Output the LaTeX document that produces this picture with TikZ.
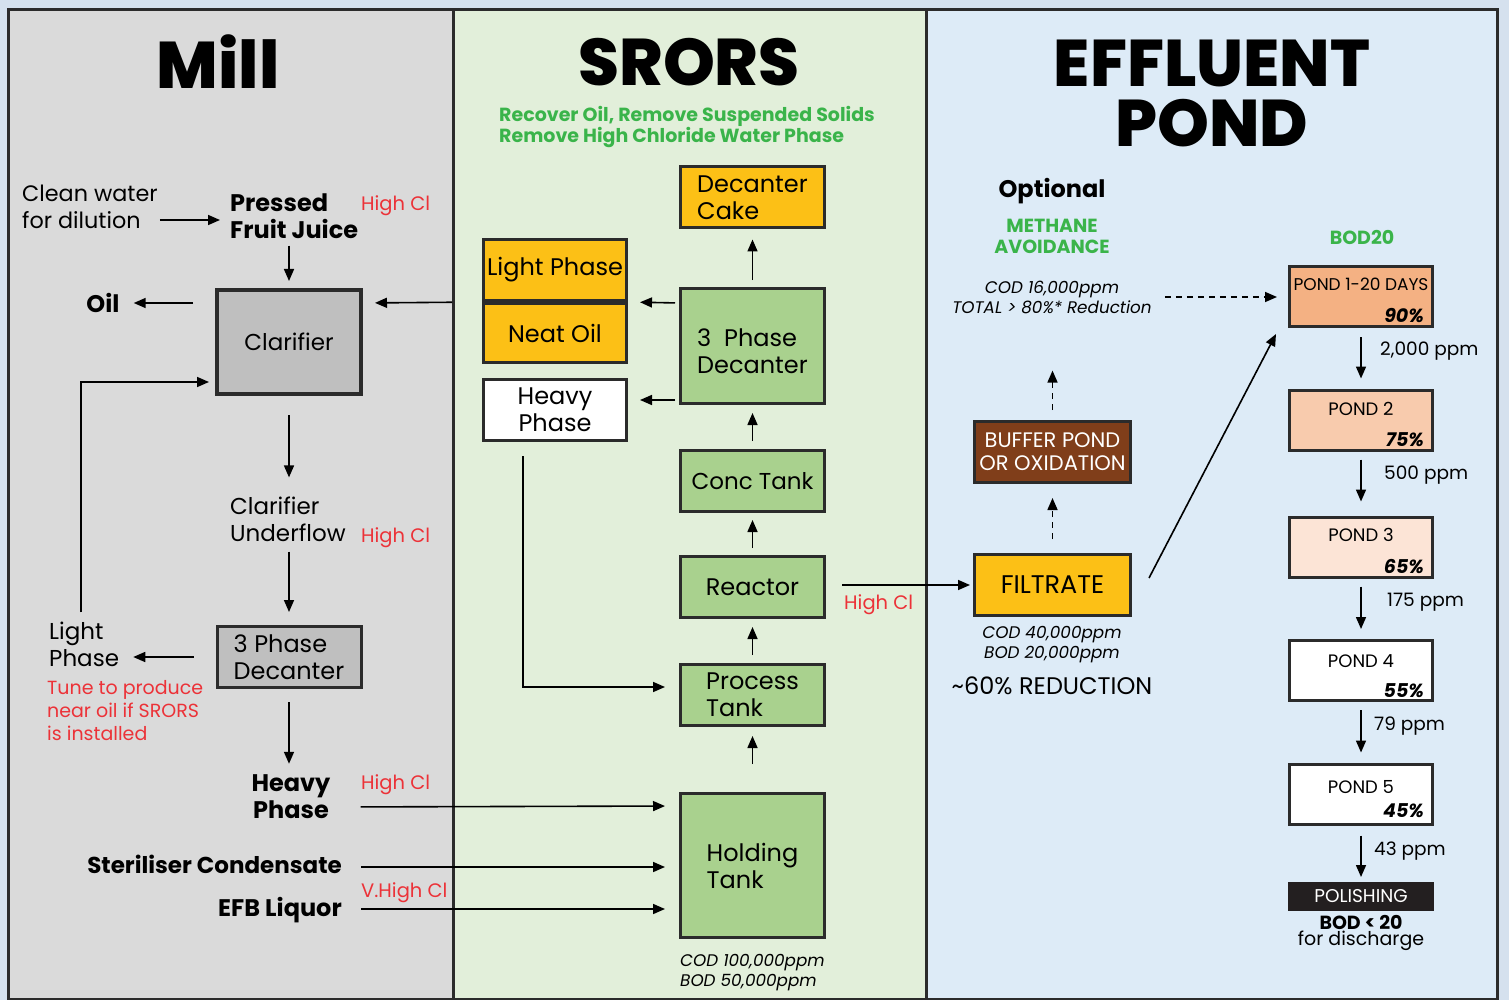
\documentclass[tikz,border=0pt]{standalone}
\usepackage{fontspec}
\setmainfont{Poppins}
\newfontfamily\heavyfont{Poppins ExtraBold}
\usetikzlibrary{arrows.meta,positioning}

\definecolor{outside}{RGB}{213,225,238}
\definecolor{millbg}{RGB}{218,218,218}
\definecolor{srorsbg}{RGB}{226,239,218}
\definecolor{pondbg}{RGB}{221,235,247}
\definecolor{edge}{RGB}{43,43,43}
\definecolor{greybox}{RGB}{191,191,191}
\definecolor{greenbox}{RGB}{169,209,142}
\definecolor{amber}{RGB}{252,192,22}
\definecolor{brownbox}{RGB}{128,62,26}
\definecolor{pondone}{RGB}{244,177,131}
\definecolor{pondtwo}{RGB}{248,203,173}
\definecolor{pondthree}{RGB}{252,228,214}
\definecolor{polishbg}{RGB}{35,31,32}
\definecolor{redcl}{RGB}{236,50,56}
\definecolor{greentxt}{RGB}{58,180,74}

\begin{document}
\begin{tikzpicture}[x=1pt,y=-1pt,>={Triangle[length=12pt,width=10pt]},
  flow/.style={->,line width=1.6pt},
  dash flow/.style={->,line width=1.6pt,dash pattern=on 6pt off 5pt},
  panel/.style={draw=edge,line width=3pt},
  txt/.style={inner sep=0pt,align=left,font=\fontsize{23}{27}\selectfont},
  bold txt/.style={txt,font=\fontsize{24}{27}\selectfont\bfseries},
  red txt/.style={inner sep=0pt,align=left,text=redcl,font=\fontsize{19.5}{23}\selectfont},
  green txt/.style={inner sep=0pt,align=left,text=greentxt,font=\fontsize{19}{21}\selectfont\bfseries},
  note txt/.style={inner sep=0pt,align=center,font=\fontsize{16.8}{20}\selectfont\itshape},
  ppm txt/.style={inner sep=0pt,anchor=west,font=\fontsize{18.5}{22}\selectfont},
  title txt/.style={inner sep=0pt,align=center,font=\fontsize{66}{60}\heavyfont},
  main node/.style={draw=edge,line width=3pt,inner sep=0pt,minimum width=144pt,minimum height=61pt,align=left,font=\fontsize{24}{27}\selectfont},
  grey node/.style={main node,fill=greybox},
  green node/.style={main node,fill=greenbox},
  amber node/.style={main node,fill=amber},
  pond node/.style={main node,minimum width=143pt,minimum height=60pt},
  pond txt/.style={inner sep=0pt,font=\fontsize{18}{20}\selectfont},
  pct txt/.style={inner sep=0pt,anchor=east,font=\fontsize{19}{20}\selectfont\bfseries\itshape}]

  \useasboundingbox (0,0) rectangle (1509,1000);
  \fill[outside] (0,0) rectangle (1509,1000);
  \draw[panel,fill=millbg] (8,10) rectangle (453,999);
  \draw[panel,fill=srorsbg] (453,10) rectangle (926,999);
  \draw[panel,fill=pondbg] (926,10) rectangle (1497,999);

  % mill
  \node[title txt] (mill) at (218,62) {Mill};
  \node[txt,anchor=west,font=\fontsize{22.3}{27}\selectfont] (water) at (22,207) {Clean water\\for dilution};
  \node[bold txt,anchor=west] (juice) at (230,216) {Pressed\\Fruit Juice};
  \node[red txt,anchor=west] (cl1) at (361,206) {High Cl};
  \node[grey node,line width=4pt,minimum height=104pt,font=\fontsize{23}{27}\selectfont] (clar) at (289,342) {Clarifier};
  \node[bold txt] (oil) at (103,303) {Oil};
  \node[txt,anchor=west] (under) at (230,519) {Clarifier\\Underflow};
  \node[red txt,anchor=west] (cl2) at (361,538) {High Cl};
  \node[grey node] (mdec) at (289,657) {3 Phase\\Decanter};
  \node[txt,anchor=west] (mlight) at (49,644) {Light\\Phase};
  \node[red txt,anchor=west,font=\fontsize{19}{23}\selectfont] (tune) at (47,711) {Tune to produce\\near oil if SRORS\\is installed};
  \node[bold txt,align=center] (mheavy) at (291,797) {Heavy\\Phase};
  \node[red txt,anchor=west] (cl3) at (361,785) {High Cl};
  \node[bold txt,anchor=east,font=\fontsize{23}{27}\selectfont\bfseries] (cond) at (342,864) {Steriliser Condensate};
  \node[red txt,anchor=west] (cl4) at (361,893) {V.High Cl};
  \node[bold txt,anchor=east] (efb) at (342,910) {EFB Liquor};

  % srors
  \node[title txt] (srors) at (689,62) {SRORS};
  \node[green txt,anchor=west] (aim) at (499,127) {Recover Oil, Remove Suspended Solids\\Remove High Chloride Water Phase};
  \node[amber node] (cake) at (752.5,197.5) {Decanter\\Cake};
  \node[amber node,minimum width=143pt] (slight) at (555,270) {Light Phase};
  \node[amber node,minimum width=143pt,minimum height=59pt] (neat) at (555,333) {Neat Oil};
  \node[green node,minimum height=115pt] (sdec) at (752.5,346) {3\ \ Phase\\Decanter\\[-37pt]};
  \node[main node,fill=white,align=center,minimum width=143pt] (sheavy) at (555,410) {Heavy\\Phase};
  \node[green node,font=\fontsize{23}{27}\selectfont] (conc) at (752.5,481) {Conc Tank};
  \node[green node] (reac) at (752.5,587) {Reactor};
  \node[green node] (proc) at (752.5,695) {Process\\Tank};
  \node[green node,minimum height=144pt] (hold) at (752.5,865.5) {Holding\\Tank};
  \node[note txt,align=left,anchor=west] (holdcod) at (680,973) {COD 100,000ppm\\BOD 50,000ppm};
  \node[red txt,anchor=west] (cl5) at (844,605) {High Cl};

  % effluent pond
  \node[title txt] (eff) at (1212,63) {EFFLUENT};
  \node[title txt] (effpond) at (1212,123) {POND};
  \node[bold txt] (opt) at (1052,191) {Optional};
  \node[green txt,align=center] (meth) at (1052,236) {METHANE\\AVOIDANCE};
  \node[green txt] (bod) at (1362,237) {BOD20};
  \node[note txt] (cod16) at (1052,297) {COD 16,000ppm\\TOTAL > 80\%* Reduction};
  \node[main node,fill=brownbox,text=white,align=center,minimum width=156pt,font=\fontsize{21}{23}\selectfont] (buffer) at (1052.5,452) {BUFFER POND\\OR OXIDATION};
  \node[amber node,align=center,minimum width=156pt,font=\fontsize{25.5}{27}\selectfont] (filt) at (1052.5,585) {FILTRATE};
  \node[note txt] (filtcod) at (1052,645) {COD 40,000ppm\\BOD 20,000ppm};
  \node[txt,font=\fontsize{24}{27}\selectfont] (cut) at (1052,686) {\textasciitilde60\% REDUCTION};

  \node[pond node,fill=pondone] (pond1) at (1361,296.5) {};
  \node[pond node,fill=pondtwo] (pond2) at (1361,420) {};
  \node[pond node,fill=pondthree] (pond3) at (1361,547) {};
  \node[pond node,fill=white] (pond4) at (1361,670.5) {};
  \node[pond node,fill=white] (pond5) at (1361,794) {};
  \node[pond node,fill=polishbg,draw=polishbg,minimum height=26pt,text=white,align=center,font=\fontsize{18.5}{20}\selectfont] (polish) at (1361,896.5) {POLISHING};

  \node[pond txt,font=\fontsize{17}{20}\selectfont] (name1) at (1361,284) {POND 1-20 DAYS};
  \node[pct txt] (cut1) at (1424,316) {90\%};
  \node[pond txt] (name2) at (1361,409) {POND 2};
  \node[pct txt] (cut2) at (1424,440) {75\%};
  \node[pond txt] (name3) at (1361,535) {POND 3};
  \node[pct txt] (cut3) at (1424,567) {65\%};
  \node[pond txt] (name4) at (1361,661) {POND 4};
  \node[pct txt] (cut4) at (1424,691) {55\%};
  \node[pond txt] (name5) at (1361,787) {POND 5};
  \node[pct txt] (cut5) at (1424,811) {45\%};

  \node[ppm txt] (ppm1) at (1380,351) {2,000 ppm};
  \node[ppm txt] (ppm2) at (1384,475) {500 ppm};
  \node[ppm txt] (ppm3) at (1387,602) {175 ppm};
  \node[ppm txt] (ppm4) at (1374,726) {79 ppm};
  \node[ppm txt] (ppm5) at (1374,851) {43 ppm};
  \node[inner sep=0pt,align=center,font=\fontsize{19}{16}\selectfont] (disch) at (1361,933) {{\bfseries BOD < 20}\\for discharge};

  % mill flows
  \draw[flow,shorten <=2pt,shorten >=10pt] ([yshift=-13pt]water.east) -- ([yshift=-4pt]juice.west);
  \draw[flow,shorten <=7pt,shorten >=7pt] (clar.north |- juice.south) -- (clar.north);
  \draw[flow,shorten <=22pt,shorten >=14pt] ([yshift=39pt]clar.west) -- (oil.east);
  \draw[flow,shorten <=30pt,shorten >=12pt] (slight.south west) -- ([yshift=39pt]clar.east);
  \draw[flow,shorten >=6pt] ([xshift=32pt,yshift=9pt]mlight.north west) |- ([yshift=-40pt]clar.west);
  \draw[flow,shorten <=19pt,shorten >=19pt] (clar.south) -- (clar.south |- under.north);
  \draw[flow,shorten <=10pt,shorten >=13pt] (mdec.north |- under.south) -- (mdec.north);
  \draw[flow,shorten <=22pt,shorten >=14pt] (mdec.west) -- (mlight.east |- mdec.west);
  \draw[flow,shorten <=13pt,shorten >=11pt] (mdec.south) -- (mdec.south |- mheavy.north);
  \draw[flow,shorten <=30pt,shorten >=14pt] ([yshift=-10pt]mheavy.east) -- ([yshift=59.5pt]hold.west);
  \draw[flow,shorten <=19pt,shorten >=14pt] ([yshift=-3pt]cond.east) -- ([yshift=-1.5pt]hold.west);
  \draw[flow,shorten <=19pt,shorten >=14pt] ([yshift=1pt]efb.east) -- ([yshift=-43.5pt]hold.west);

  % srors flows
  \draw[flow,shorten <=7pt,shorten >=10pt] (sdec.north) -- (cake.south);
  \draw[flow,shorten <=4pt,shorten >=12pt] ([yshift=43pt]sdec.west) -- (slight.south east);
  \draw[flow,shorten <=4pt,shorten >=12pt] ([yshift=-54pt]sdec.west) -- ([yshift=10pt]sheavy.east);
  \draw[flow,shorten <=8pt,shorten >=8pt] (conc.north) -- (sdec.south);
  \draw[flow,shorten <=7pt,shorten >=7pt] (reac.north) -- (conc.south);
  \draw[flow,shorten <=8pt,shorten >=8pt] (proc.north) -- (reac.south);
  \draw[flow,shorten <=28pt,shorten >=9pt] (hold.north) -- (proc.south);
  \draw[flow,shorten >=14pt] ([xshift=41pt,yshift=-14pt]sheavy.south west) |- ([yshift=8pt]proc.west);
  \draw[flow,shorten <=16pt,shorten >=3pt] ([yshift=2pt]reac.east) -- (filt.west);

  % effluent flows
  \draw[dash flow,shorten <=13pt,shorten >=11pt] (cod16.east) -- (cod16.east -| pond1.west);
  \draw[dash flow,shorten <=14pt,shorten >=14pt] (filt.north) -- (buffer.south);
  \draw[dash flow,shorten <=10pt,shorten >=57pt] (buffer.north) -- (buffer.north |- cod16.south);
  \draw[flow] ([shift={(17,-7)}]filt.east) -- ([shift={(-12,6)}]pond1.south west);
  \draw[flow,shorten <=9pt,shorten >=10pt] (pond1.south) -- (pond2.north);
  \draw[flow,shorten <=8pt,shorten >=14pt] (pond2.south) -- (pond3.north);
  \draw[flow,shorten <=8pt,shorten >=10pt] (pond3.south) -- (pond4.north);
  \draw[flow,shorten <=8pt,shorten >=10pt] (pond4.south) -- (pond5.north);
  \draw[flow,shorten <=10pt,shorten >=5pt] (pond5.south) -- (polish.north);

\end{tikzpicture}
\end{document}
